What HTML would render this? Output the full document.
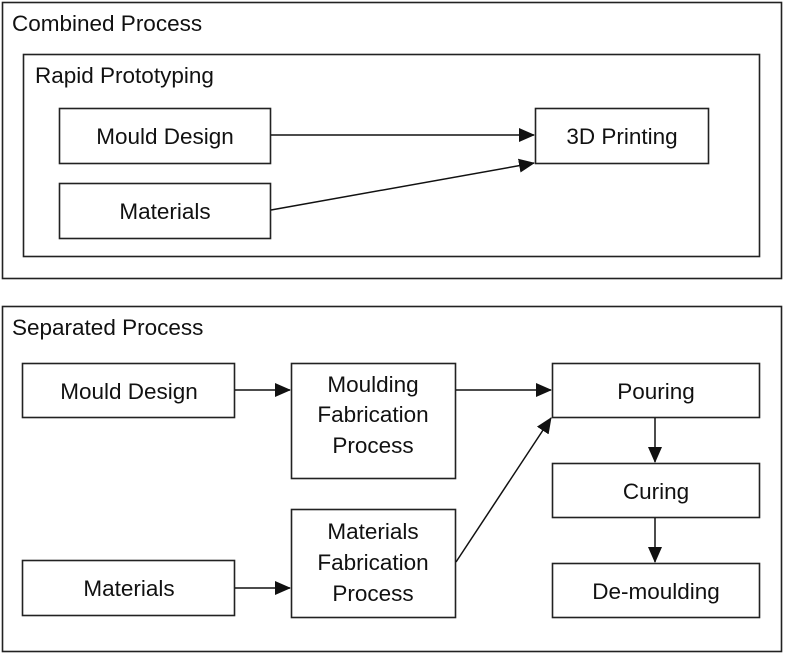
<!DOCTYPE html>
<html><head><meta charset="utf-8"><style>
body{margin:0;background:#fff;}
svg text{font-family:"Liberation Sans",sans-serif;font-size:22.5px;fill:#111;}
</style></head><body>
<svg width="785" height="655" viewBox="0 0 785 655" xmlns="http://www.w3.org/2000/svg">
<defs>
<marker id="b" markerWidth="16" markerHeight="14" refX="15" refY="7" orient="auto" markerUnits="userSpaceOnUse"><path d="M0,0 L16,7 L0,14 z" fill="#111"/></marker></defs>
<g fill="none" stroke="#222" stroke-width="1.6">
<rect x="2.5" y="2.5" width="779" height="276"/>
<rect x="23.5" y="54.5" width="736" height="202"/>
<rect x="59.5" y="108.5" width="211" height="55"/>
<rect x="59.5" y="183.5" width="211" height="55"/>
<rect x="535.5" y="108.5" width="173" height="55"/>
<rect x="2.5" y="306.5" width="779" height="345"/>
<rect x="22.5" y="363.5" width="212" height="54"/>
<rect x="22.5" y="560.5" width="212" height="55"/>
<rect x="291.5" y="363.5" width="164" height="115"/>
<rect x="291.5" y="509.5" width="164" height="108"/>
<rect x="552.5" y="363.5" width="207" height="54"/>
<rect x="552.5" y="463.5" width="207" height="54"/>
<rect x="552.5" y="563.5" width="207" height="54"/>
</g>
<g stroke="#111" stroke-width="1.5" fill="none">
<line x1="271" y1="135" x2="534" y2="135" marker-end="url(#b)"/>
<line x1="271" y1="210" x2="534" y2="163" marker-end="url(#b)"/>
<line x1="235" y1="390" x2="290" y2="390" marker-end="url(#b)"/>
<line x1="235" y1="588" x2="290" y2="588" marker-end="url(#b)"/>
<line x1="456" y1="390" x2="551" y2="390" marker-end="url(#b)"/>
<line x1="456" y1="562" x2="551" y2="418" marker-end="url(#b)"/>
<line x1="655" y1="418" x2="655" y2="462" marker-end="url(#b)"/>
<line x1="655" y1="518" x2="655" y2="562" marker-end="url(#b)"/>
</g>
<text x="12" y="31">Combined Process</text>
<text x="35" y="83">Rapid Prototyping</text>
<text x="165" y="144" text-anchor="middle">Mould Design</text>
<text x="165" y="219" text-anchor="middle">Materials</text>
<text x="622" y="144" text-anchor="middle">3D Printing</text>
<text x="12" y="335">Separated Process</text>
<text x="129" y="399" text-anchor="middle">Mould Design</text>
<text x="129" y="596" text-anchor="middle">Materials</text>
<text x="373" y="392" text-anchor="middle">Moulding</text>
<text x="373" y="422" text-anchor="middle">Fabrication</text>
<text x="373" y="453" text-anchor="middle">Process</text>
<text x="373" y="539" text-anchor="middle">Materials</text>
<text x="373" y="570" text-anchor="middle">Fabrication</text>
<text x="373" y="601" text-anchor="middle">Process</text>
<text x="656" y="399" text-anchor="middle">Pouring</text>
<text x="656" y="499" text-anchor="middle">Curing</text>
<text x="656" y="599" text-anchor="middle">De-moulding</text>
</svg>
</body></html>
